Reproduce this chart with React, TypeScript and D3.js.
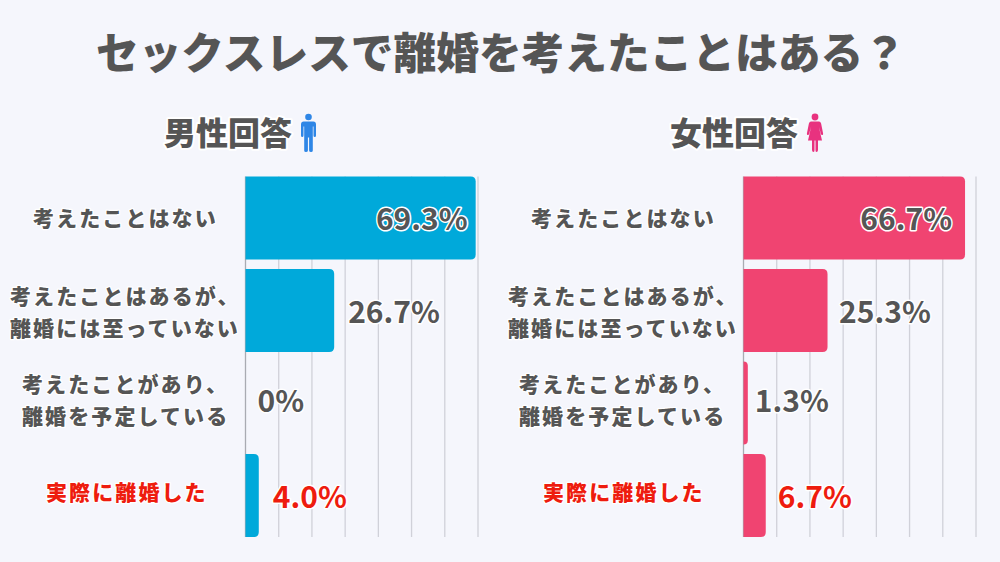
import React from "react";
import * as d3 from "d3";

const title = "セックスレスで離婚を考えたことはある？";
const categoryLines = [
  ["考えたことはない"],
  ["考えたことはあるが、", "離婚には至っていない"],
  ["考えたことがあり、", "離婚を予定している"],
  ["実際に離婚した"],
];
const categoryKeys = ["a", "b", "c", "d"];
const maleValues = [69.3, 26.7, 0, 4.0];
const femaleValues = [66.7, 25.3, 1.3, 6.7];
const maleLabels = ["69.3%", "26.7%", "0%", "4.0%"];
const femaleLabels = ["66.7%", "25.3%", "1.3%", "6.7%"];
const gridTicks = [0, 10, 20, 30, 40, 50, 60, 70];

const FONT = "'Noto Sans CJK JP', sans-serif";
const GREY = "#555555";
const RED = "#ee1c0e";
const BG = "#f5f6fc";

const y = d3.scaleBand<string>().domain(categoryKeys).range([176.5, 537]).paddingInner(0.103).paddingOuter(0);

function barPath(x0: number, x1: number, top: number, h: number) {
  const r = Math.min(5, x1 - x0);
  const p = d3.path();
  p.moveTo(x0, top);
  p.lineTo(x1 - r, top);
  p.quadraticCurveTo(x1, top, x1, top + r);
  p.lineTo(x1, top + h - r);
  p.quadraticCurveTo(x1, top + h, x1 - r, top + h);
  p.lineTo(x0, top + h);
  p.closePath();
  return p.toString();
}

function Halo({ x, y, size, fill, children, anchor, spacing, sw, weight }: any) {
  return (
    <text x={x} y={y} fontSize={size} fontWeight={weight ?? 900} fill={fill} textAnchor={anchor || "start"}
      letterSpacing={spacing || 0} stroke="#ffffff" strokeWidth={sw ?? 3} strokeLinejoin="round"
      style={{ paintOrder: "stroke", fontFamily: FONT }}>
      {children}
    </text>
  );
}

function Panel({ axisX, values, labels, color, heading, headingX, labelCenters, labelXs, valueOffsets, valueDy }: any) {
  const x = d3.scaleLinear().domain([0, 70]).range([axisX, axisX + 232.5]);
  const top = 176.5, bottom = 537;
  return (
    <g>
      <Halo x={headingX} y={144.5} size={32} fill={GREY} sw={4}>{heading}</Halo>
      {gridTicks.map((t: number) => (
        <line key={t} x1={x(t)} x2={x(t)} y1={top} y2={bottom} stroke={t === 0 ? "#a9abb2" : "#d0d1d9"} strokeWidth={1.3} />
      ))}
      {values.map((v: number, i: number) => {
        const k = categoryKeys[i];
        const by = y(k)!;
        const h = y.bandwidth();
        const isRed = i === 3;
        const inside = i === 0;
        const cy = by + h / 2;
        return (
          <g key={k}>
            {v > 0 && <path d={barPath(x(0), x(v), by, h)} fill={color} />}
            <Halo x={x(v) + valueOffsets[i]} y={cy + valueDy[i]} size={30} weight={700} fill={isRed ? RED : GREY} anchor={inside ? "end" : "start"}>
              {labels[i]}
            </Halo>
          </g>
        );
      })}
      {categoryLines.map((lines: string[], i: number) => (
        <g key={i}>
          {lines.map((ln: string, j: number) => (
            <Halo key={j} x={labelXs[i]} y={labelCenters[i] + 8 + (j - (lines.length - 1) / 2) * 32}
              size={21} spacing={2.1} sw={2.5} fill={i === 3 ? RED : GREY}>
              {ln}
            </Halo>
          ))}
        </g>
      ))}
    </g>
  );
}

function Male({ x, y: yy, fill }: any) {
  return (
    <g transform={`translate(${x},${yy})`} fill={fill}>
      <circle cx={8} cy={3.5} r={3.3} />
      <path d="M3.2 8 H12.8 Q15.5 8 15.5 11 V22 Q15.5 23.5 14.3 23.5 Q13 23.5 13 22 V13 H12.3 V37 Q12.3 38.5 10.6 38.5 Q8.6 38.5 8.6 37 V24 H7.4 V37 Q7.4 38.5 5.4 38.5 Q3.7 38.5 3.7 37 V13 H3 V22 Q3 23.5 1.7 23.5 Q0.5 23.5 0.5 22 V11 Q0.5 8 3.2 8 Z" />
    </g>
  );
}

function Female({ x, y: yy, fill }: any) {
  return (
    <g transform={`translate(${x},${yy})`} fill={fill}>
      <circle cx={8.5} cy={3.5} r={3.4} />
      <path d="M4.5 8 H12.5 Q14 8 14.6 10 L16.6 20 Q16.8 21.5 15.7 21.6 Q14.7 21.7 14.4 20.5 L12.3 13 L15.5 27 H11.5 V36.5 Q11.5 38.5 9.8 38.5 Q9 38.5 9 36.5 V27 H8 V36.5 Q8 38.5 7.2 38.5 Q5.5 38.5 5.5 36.5 V27 H1.5 L4.7 13 L2.6 20.5 Q2.3 21.7 1.3 21.6 Q0.2 21.5 0.4 20 L2.4 10 Q3 8 4.5 8 Z" />
    </g>
  );
}

export default function App() {
  return (
    <svg width={1000} height={562} viewBox="0 0 1000 562"
      style={{ position: "absolute", left: 0, top: 0, display: "block", background: BG }}>
      <rect width={1000} height={562} fill={BG} />
      <Halo x={96} y={69} size={42.7} fill={GREY} sw={0}>{title}</Halo>
      <Panel axisX={245.5} values={maleValues} labels={maleLabels} color="#00a9da" heading="男性回答" headingX={164}
        labelCenters={[217.5, 312, 399.5, 492]} labelXs={[33, 10, 22, 46]} valueOffsets={[-8, 14, 12, 14]} valueDy={[12, 12.5, 9, 12.5]} />
      <Panel axisX={743.5} values={femaleValues} labels={femaleLabels} color="#f04471" heading="女性回答" headingX={670}
        labelCenters={[217.5, 312, 399.5, 492]} labelXs={[531, 508, 519, 543]} valueOffsets={[-13, 11.5, 7, 12]} valueDy={[12, 12.5, 9, 12.5]} />
      <Male x={300.5} y={113.5} fill="#2e86e6" />
      <Female x={806.5} y={113.5} fill="#e8327f" />
    </svg>
  );
}
